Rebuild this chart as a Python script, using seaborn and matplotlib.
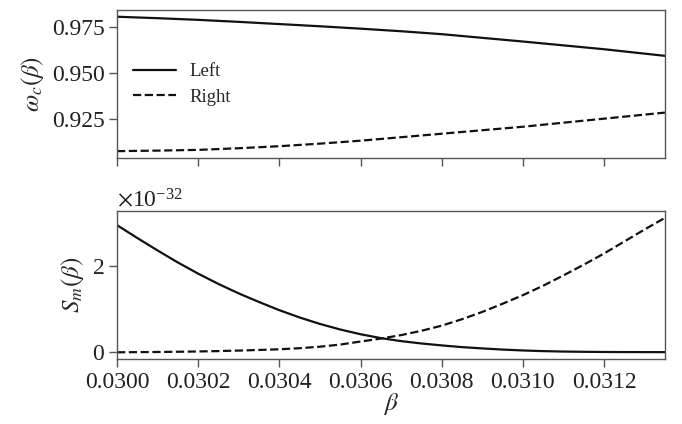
import matplotlib
matplotlib.use('Agg')
import matplotlib.pyplot as plt
import seaborn as sns
from matplotlib.ticker import MultipleLocator, FormatStrFormatter

# top panel: omega_c(beta), read every 0.0001
beta_top = [0.03000, 0.03010, 0.03020, 0.03030, 0.03040, 0.03050, 0.03060,
            0.03070, 0.03080, 0.03090, 0.03100, 0.03110, 0.03120, 0.03135]
omega_left = [0.9805, 0.9797, 0.9788, 0.9777, 0.9765, 0.9753, 0.9740,
              0.9726, 0.9710, 0.9690, 0.9670, 0.9649, 0.9628, 0.9592]
omega_right = [0.9073, 0.9076, 0.9080, 0.9089, 0.9100, 0.9114, 0.9130,
               0.9149, 0.9168, 0.9187, 0.9206, 0.9228, 0.9250, 0.9283]

# bottom panel: S_m(beta) in units of 1e-32, read every 0.00005
beta_bot = [0.03000, 0.03005, 0.03010, 0.03015, 0.03020, 0.03025, 0.03030,
            0.03035, 0.03040, 0.03045, 0.03050, 0.03055, 0.03060, 0.03065,
            0.03070, 0.03075, 0.03080, 0.03085, 0.03090, 0.03095, 0.03100,
            0.03105, 0.03110, 0.03115, 0.03120, 0.03125, 0.03130, 0.03135]
sm_left = [2.96, 2.66, 2.37, 2.09, 1.83, 1.59, 1.37, 1.17, 0.98, 0.81,
           0.66, 0.53, 0.42, 0.33, 0.26, 0.205, 0.16, 0.12, 0.09, 0.063,
           0.042, 0.027, 0.017, 0.011, 0.007, 0.005, 0.004, 0.003]
sm_right = [0.0, 0.003, 0.007, 0.012, 0.019, 0.028, 0.04, 0.054, 0.07, 0.095,
            0.13, 0.18, 0.25, 0.32, 0.40, 0.50, 0.62, 0.77, 0.94, 1.13,
            1.33, 1.55, 1.79, 2.04, 2.30, 2.58, 2.86, 3.13]
sm_scale = 1e-32

sns.set_theme(style='ticks')
plt.rcParams['font.family'] = ['Liberation Serif', 'DejaVu Serif']
plt.rcParams['mathtext.fontset'] = 'stix'
plt.rcParams['axes.formatter.use_mathtext'] = True
plt.rcParams['axes.edgecolor'] = '#555555'
plt.rcParams['xtick.color'] = '#555555'
plt.rcParams['ytick.color'] = '#555555'
plt.rcParams['xtick.labelcolor'] = '#222222'
plt.rcParams['ytick.labelcolor'] = '#222222'

fig, (ax1, ax2) = plt.subplots(2, 1, figsize=(6.82, 4.24), dpi=100, sharex=True)
fig.subplots_adjust(left=0.1716, right=0.975, top=0.9764, bottom=0.1533, hspace=0.36)

# 위쪽: omega_c
sns.lineplot(x=beta_top, y=omega_left, ax=ax1, color='#111111', lw=1.6, label='Left')
sns.lineplot(x=beta_top, y=omega_right, ax=ax1, color='#111111', lw=1.6,
             linestyle='--', label='Right')
ax1.set_ylabel(r'$\omega_c(\beta)$', fontsize=18)
ax1.yaxis.set_major_locator(MultipleLocator(0.025))
ax1.yaxis.set_major_formatter(FormatStrFormatter('%.3f'))
ax1.legend(loc='upper left', bbox_to_anchor=(0.016, 0.69), borderaxespad=0,
           frameon=False, fontsize=13.5, handlelength=2.3, handletextpad=0.7,
           labelspacing=0.45)

# 아래쪽: S_m
sns.lineplot(x=beta_bot, y=[v * sm_scale for v in sm_left], ax=ax2,
             color='#111111', lw=1.6)
sns.lineplot(x=beta_bot, y=[v * sm_scale for v in sm_right], ax=ax2,
             color='#111111', lw=1.6, linestyle='--')
ax2.set_ylabel(r'$S_m(\beta)$', fontsize=18)
ax2.set_xlabel(r'$\beta$', fontsize=18, labelpad=-1)
ax2.yaxis.set_major_locator(MultipleLocator(2e-32))
ax2.yaxis.get_offset_text().set_fontsize(17)

ax2.set_xlim(beta_bot[0], beta_bot[-1])
ax2.xaxis.set_major_locator(MultipleLocator(0.0002))
ax2.xaxis.set_major_formatter(FormatStrFormatter('%.4f'))

for ax in (ax1, ax2):
    ax.tick_params(labelsize=17, length=6, width=1, direction='out', pad=3)
    for s in ax.spines.values():
        s.set_visible(True)
        s.set_linewidth(1)

plt.savefig('out.png', dpi=100)
plt.close()
